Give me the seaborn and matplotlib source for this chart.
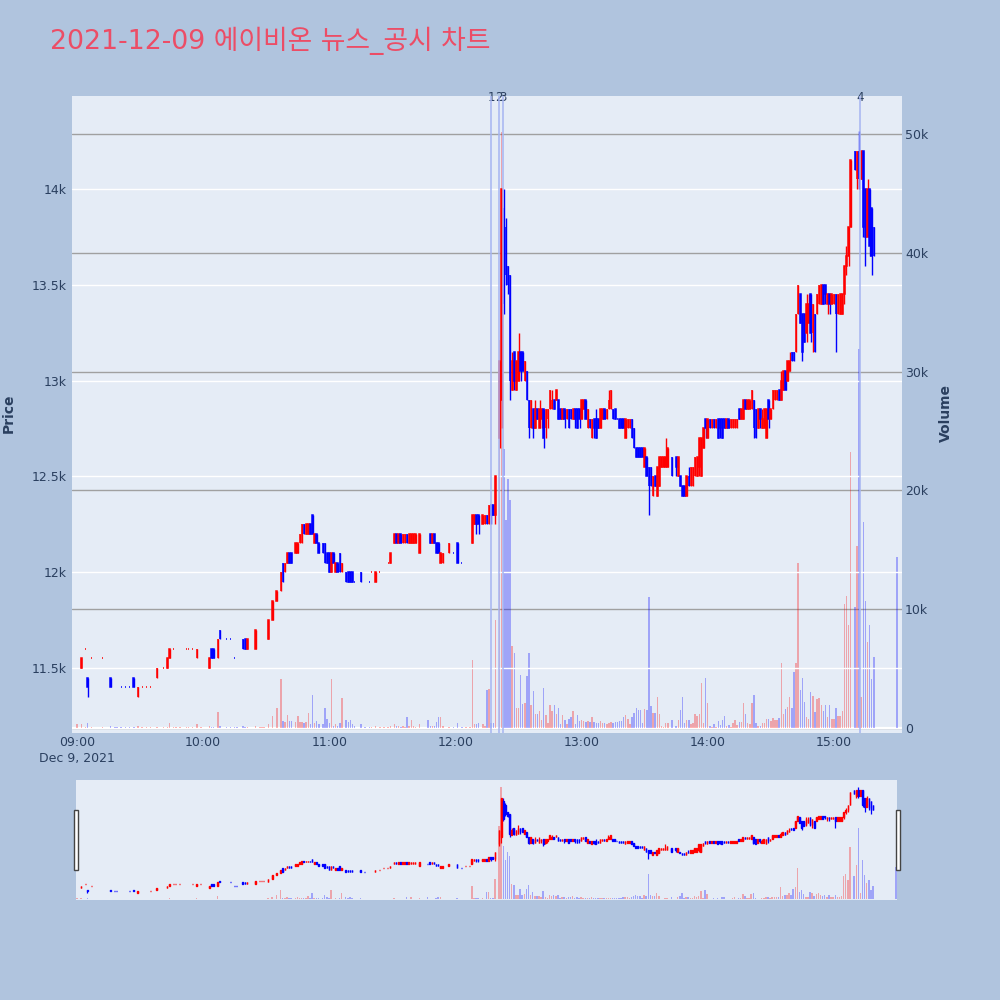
import numpy as np
import pandas as pd
import matplotlib
matplotlib.use("Agg")
import matplotlib.pyplot as plt
import matplotlib.dates as mdates
from matplotlib.patches import Rectangle
import seaborn as sns

# =================================================================
# 1. Data (1-minute candles, Dec 9 2021)
# =================================================================
# minutes after 09:00 that have a candle
minute = [0, 2, 4, 5, 7, 12, 16, 18, 19, 21,
          23, 25, 27, 29, 31, 33, 35, 38, 41, 43,
          44, 46, 47, 49, 52, 53, 55, 57, 59, 63,
          64, 65, 67, 68, 71, 73, 75, 76, 79, 80,
          81, 85, 87, 88, 89, 91, 93, 95, 97, 98,
          99, 100, 101, 102, 104, 105, 106, 107, 108, 109,
          110, 111, 112, 113, 114, 115, 117, 118, 119, 120,
          121, 122, 123, 124, 125, 126, 128, 129, 130, 131,
          132, 135, 137, 139, 140, 142, 144, 146, 148, 149,
          151, 152, 153, 154, 155, 156, 157, 158, 159, 160,
          161, 163, 167, 168, 169, 170, 171, 172, 173, 174,
          177, 179, 181, 183, 185, 187, 188, 189, 190, 191,
          193, 194, 195, 196, 197, 198, 199, 201, 202,
          203, 204, 205, 206, 207, 208, 209, 210, 211, 212,
          213, 214, 215, 216, 217, 218, 219, 220, 221, 222,
          223, 224, 225, 226, 227, 228, 229, 230, 231, 232,
          233, 234, 235, 236, 237, 238, 239, 240, 241, 242,
          243, 244, 245, 246, 247, 248, 249, 250, 251, 252,
          253, 254, 255, 256, 257, 258, 259, 260, 261, 262,
          263, 264, 265, 266, 267, 268, 269, 270, 271, 272,
          273, 274, 275, 276, 277, 278, 279, 280, 281,
          283,
          285, 286, 287, 288, 289, 290, 291, 292, 293, 294,
          295, 296, 297, 298, 299, 300, 301, 302, 303, 304,
          305, 306, 307, 308, 309, 310, 311, 312, 313, 314,
          315, 316, 317, 318, 319, 320, 321, 322, 323, 324,
          325, 326, 327, 328, 329, 330, 331, 332, 333, 334,
          335, 336, 337, 338, 339, 340, 341, 342, 343, 344,
          345, 346, 347, 348, 349, 350, 351, 352, 353, 354,
          355, 356, 357, 358, 359, 360, 361, 362, 363, 364,
          365, 366, 367, 368, 370, 371, 372, 373, 374, 375,
          376, 377, 378, 379, 390]

open_ = [11400, 11500, 11600, 11450, 11550, 11550, 11450, 11400, 11400, 11400,
         11400, 11400, 11450, 11350, 11400, 11400, 11400, 11450, 11500, 11500,
         11550, 11600, 11600, 11600, 11600, 11600, 11600, 11550, 11600, 11500,
         11600, 11600, 11550, 11700, 11650, 11650, 11550, 11550, 11650, 11650,
         11600, 11600, 11700, 11700, 11700, 11650, 11750, 11850, 11900, 12050,
         12000, 12050, 12100, 12100, 12100, 12100, 12150, 12150, 12250, 12200,
         12200, 12250, 12300, 12150, 12200, 12150, 12150, 12150, 12100, 12100,
         12000, 12100, 12000, 12050, 12100, 12000, 12000, 12000, 12000, 12000,
         11950, 12000, 11950, 11950, 12000, 11950, 12000, 12050, 12050, 12050,
         12150, 12200, 12150, 12200, 12150, 12150, 12200, 12150, 12150, 12150,
         12150, 12100, 12150, 12200, 12150, 12200, 12150, 12150, 12050, 12050,
         12100, 12100, 12150, 12050, 12100, 12100, 12150, 12250, 12300, 12300,
         12250, 12250, 12300, 12250, 12350, 12350, 12300, 12700, 12900,
         13900, 13800, 13600, 13550, 12950, 13150, 12950, 13000, 13150, 13150,
         13000, 13050, 12900, 12750, 12850, 12750, 12850, 12750, 12800, 12850,
         12750, 12800, 12850, 12850, 12900, 12900, 12900, 12850, 12800, 12850,
         12800, 12850, 12850, 12800, 12850, 12850, 12850, 12800, 12850, 12900,
         12750, 12800, 12700, 12800, 12800, 12800, 12750, 12800, 12850, 12800,
         12850, 12850, 12850, 12850, 12800, 12800, 12800, 12800, 12700, 12750,
         12750, 12800, 12750, 12650, 12650, 12650, 12650, 12550, 12600, 12550,
         12550, 12400, 12500, 12400, 12450, 12550, 12550, 12550, 12550,
         12600,
         12600, 12500, 12500, 12450, 12450, 12400, 12500, 12450, 12450, 12500,
         12500, 12550, 12500, 12650, 12800, 12700, 12800, 12750, 12800, 12750,
         12800, 12800, 12800, 12800, 12750, 12800, 12750, 12750, 12750, 12750,
         12850, 12800, 12800, 12900, 12850, 12850, 12850, 12900, 12850, 12750,
         12850, 12750, 12750, 12700, 12900, 12800, 12850, 12900, 12900, 12950,
         12900, 12950, 13050, 13000, 13050, 13150, 13150, 13150, 13350, 13450,
         13350, 13350, 13250, 13300, 13450, 13250, 13350, 13350, 13400, 13400,
         13500, 13500, 13400, 13450, 13400, 13400, 13450, 13350, 13350, 13350,
         13450, 13600, 13650, 13800, 14200, 14050, 14200, 14050, 14200, 14000,
         13750, 14000, 13900, 13800, 13600]

high = [11400, 11550, 11600, 11450, 11550, 11550, 11450, 11400, 11400, 11400,
        11400, 11400, 11450, 11400, 11400, 11400, 11400, 11500, 11500, 11550,
        11600, 11600, 11600, 11600, 11600, 11600, 11600, 11600, 11600, 11550,
        11600, 11600, 11650, 11700, 11650, 11650, 11550, 11550, 11650, 11650,
        11650, 11700, 11700, 11700, 11700, 11750, 11850, 11900, 12000, 12050,
        12050, 12100, 12100, 12100, 12150, 12150, 12200, 12250, 12250, 12250,
        12250, 12250, 12300, 12200, 12200, 12150, 12150, 12150, 12100, 12100,
        12100, 12100, 12050, 12050, 12100, 12050, 12000, 12000, 12000, 12000,
        11950, 12000, 11950, 11950, 12000, 12000, 12000, 12050, 12050, 12100,
        12200, 12200, 12200, 12200, 12200, 12200, 12200, 12200, 12200, 12200,
        12200, 12200, 12150, 12200, 12200, 12200, 12150, 12150, 12100, 12100,
        12150, 12100, 12150, 12050, 12100, 12100, 12300, 12300, 12300, 12300,
        12300, 12300, 12300, 12350, 12350, 12350, 12500, 13100, 14000,
        14000, 13850, 13600, 13550, 13150, 13150, 13100, 13250, 13150, 13150,
        13100, 13050, 12900, 12900, 12850, 12900, 12850, 12900, 12850, 12850,
        12850, 12850, 12950, 12950, 12900, 12950, 12900, 12850, 12850, 12850,
        12850, 12850, 12850, 12850, 12850, 12850, 12850, 12900, 12900, 12900,
        12850, 12800, 12800, 12800, 12850, 12800, 12850, 12850, 12850, 12850,
        12950, 12950, 12850, 12850, 12800, 12800, 12800, 12800, 12800, 12800,
        12800, 12800, 12750, 12650, 12650, 12650, 12650, 12650, 12600, 12550,
        12550, 12500, 12500, 12550, 12600, 12600, 12600, 12700, 12650,
        12600,
        12600, 12600, 12500, 12450, 12450, 12500, 12550, 12550, 12550, 12600,
        12600, 12700, 12700, 12750, 12800, 12800, 12800, 12800, 12800, 12800,
        12800, 12800, 12800, 12800, 12800, 12800, 12800, 12800, 12800, 12800,
        12850, 12850, 12900, 12900, 12900, 12900, 12950, 12900, 12850, 12850,
        12850, 12850, 12850, 12850, 12900, 12850, 12950, 12950, 12950, 12950,
        13050, 13050, 13050, 13100, 13150, 13150, 13150, 13350, 13500, 13450,
        13350, 13350, 13450, 13450, 13450, 13400, 13350, 13450, 13500, 13500,
        13500, 13500, 13450, 13450, 13450, 13450, 13450, 13450, 13450, 13450,
        13600, 13700, 13800, 14150, 14200, 14200, 14300, 14200, 14200, 14000,
        14050, 14000, 13900, 13800, 13600]

low = [11400, 11500, 11600, 11350, 11550, 11550, 11400, 11400, 11400, 11400,
       11400, 11400, 11400, 11350, 11400, 11400, 11400, 11450, 11500, 11500,
       11550, 11600, 11600, 11600, 11600, 11600, 11600, 11550, 11600, 11500,
       11550, 11550, 11550, 11650, 11650, 11650, 11550, 11550, 11600, 11600,
       11600, 11600, 11700, 11700, 11700, 11650, 11750, 11850, 11900, 11950,
       12000, 12050, 12050, 12050, 12100, 12100, 12150, 12150, 12200, 12200,
       12200, 12200, 12200, 12150, 12150, 12100, 12100, 12050, 12050, 12000,
       12000, 12050, 12000, 12000, 12000, 12000, 11950, 11950, 11950, 11950,
       11950, 11950, 11950, 11950, 12000, 11950, 12000, 12050, 12050, 12050,
       12150, 12150, 12150, 12150, 12150, 12150, 12150, 12150, 12150, 12150,
       12150, 12100, 12150, 12150, 12150, 12150, 12100, 12100, 12050, 12050,
       12100, 12100, 12050, 12050, 12100, 12100, 12150, 12250, 12200, 12200,
       12250, 12250, 12250, 12250, 12250, 12300, 12250, 12650, 12750,
       13350, 13500, 13450, 12900, 12950, 12950, 12950, 13000, 13000, 13050,
       13000, 12900, 12700, 12750, 12700, 12750, 12800, 12750, 12750, 12650,
       12700, 12750, 12850, 12850, 12850, 12900, 12800, 12800, 12800, 12750,
       12800, 12750, 12800, 12800, 12750, 12750, 12750, 12800, 12850, 12800,
       12750, 12750, 12700, 12700, 12700, 12750, 12750, 12800, 12800, 12800,
       12850, 12850, 12800, 12800, 12800, 12750, 12750, 12750, 12700, 12750,
       12750, 12700, 12650, 12600, 12600, 12600, 12600, 12550, 12500, 12300,
       12450, 12400, 12450, 12400, 12450, 12550, 12550, 12550, 12550,
       12500,
       12500, 12500, 12450, 12400, 12400, 12400, 12450, 12450, 12450, 12500,
       12500, 12500, 12500, 12650, 12700, 12700, 12750, 12750, 12750, 12750,
       12700, 12700, 12700, 12750, 12750, 12750, 12750, 12750, 12750, 12750,
       12800, 12800, 12800, 12850, 12850, 12850, 12850, 12700, 12700, 12750,
       12750, 12750, 12750, 12700, 12750, 12800, 12850, 12900, 12900, 12900,
       12900, 12950, 12950, 13000, 13050, 13100, 13100, 13150, 13350, 13300,
       13100, 13200, 13200, 13300, 13200, 13150, 13150, 13350, 13400, 13400,
       13400, 13400, 13350, 13350, 13400, 13400, 13150, 13350, 13350, 13350,
       13400, 13550, 13600, 13800, 14100, 14000, 14000, 14050, 13750, 13600,
       13750, 13650, 13550, 13650, 13600]

close = [11400, 11550, 11600, 11400, 11550, 11550, 11400, 11400, 11400, 11400,
         11400, 11400, 11400, 11400, 11400, 11400, 11400, 11500, 11500, 11550,
         11600, 11600, 11600, 11600, 11600, 11600, 11600, 11600, 11600, 11550,
         11550, 11550, 11650, 11650, 11650, 11650, 11550, 11550, 11600, 11600,
         11650, 11700, 11700, 11700, 11700, 11750, 11850, 11900, 12000, 11950,
         12050, 12100, 12050, 12050, 12150, 12150, 12200, 12250, 12200, 12250,
         12250, 12200, 12200, 12200, 12150, 12100, 12100, 12050, 12050, 12000,
         12100, 12050, 12050, 12000, 12000, 12050, 11950, 11950, 11950, 11950,
         11950, 11950, 11950, 11950, 12000, 12000, 12000, 12050, 12050, 12100,
         12200, 12150, 12200, 12150, 12200, 12200, 12150, 12200, 12200, 12200,
         12200, 12200, 12150, 12150, 12200, 12150, 12100, 12100, 12100, 12100,
         12150, 12100, 12050, 12050, 12100, 12100, 12300, 12300, 12250, 12250,
         12300, 12300, 12250, 12350, 12300, 12300, 12500, 13100, 14000,
         13400, 13550, 13500, 13000, 13100, 13000, 13100, 13150, 13050, 13050,
         13100, 12900, 12750, 12900, 12750, 12850, 12800, 12850, 12850, 12700,
         12850, 12850, 12950, 12900, 12850, 12950, 12800, 12800, 12850, 12800,
         12850, 12750, 12800, 12850, 12800, 12750, 12800, 12900, 12900, 12800,
         12850, 12750, 12800, 12750, 12700, 12750, 12850, 12850, 12800, 12850,
         12900, 12950, 12800, 12800, 12800, 12750, 12750, 12750, 12800, 12800,
         12800, 12700, 12650, 12600, 12600, 12600, 12600, 12650, 12500, 12450,
         12450, 12500, 12450, 12550, 12600, 12600, 12600, 12600, 12650,
         12500,
         12550, 12600, 12450, 12400, 12400, 12500, 12450, 12550, 12550, 12600,
         12600, 12700, 12700, 12750, 12750, 12800, 12750, 12800, 12750, 12800,
         12700, 12750, 12700, 12750, 12800, 12750, 12800, 12800, 12800, 12800,
         12800, 12850, 12900, 12850, 12900, 12900, 12950, 12750, 12700, 12850,
         12800, 12800, 12850, 12850, 12800, 12850, 12950, 12950, 12950, 12900,
         13000, 13050, 12950, 13100, 13100, 13100, 13100, 13350, 13500, 13300,
         13150, 13200, 13400, 13400, 13250, 13400, 13150, 13450, 13500, 13500,
         13400, 13450, 13450, 13400, 13450, 13450, 13350, 13450, 13450, 13450,
         13600, 13650, 13800, 14150, 14100, 14200, 14050, 14200, 13800, 13750,
         14000, 13700, 13650, 13650, 13600]

volume = [300, 300, 100, 450, 100, 100, 200, 100, 100, 100,
          100, 100, 100, 200, 100, 100, 100, 100, 100, 100,
          400, 100, 100, 100, 100, 100, 100, 300, 100, 200,
          100, 100, 1350, 200, 100, 100, 100, 100, 200, 100,
          100, 200, 100, 100, 100, 300, 1000, 1650, 4100, 600,
          500, 1100, 600, 600, 500, 1050, 500, 500, 450, 500,
          1300, 300, 2800, 400, 600, 300, 300, 1650, 800, 400,
          4100, 200, 300, 200, 400, 2500, 700, 500, 700, 300,
          200, 300, 100, 100, 100, 200, 100, 100, 100, 200,
          300, 200, 200, 100, 200, 100, 900, 200, 700, 200,
          100, 300, 700, 200, 200, 200, 500, 900, 900, 200,
          100, 100, 400, 100, 100, 100, 5700, 300, 300, 400,
          300, 200, 3200, 3300, 400, 400, 9100, 32700, 50200,
          23500, 17500, 21000, 19200, 6900, 6300, 1700, 1700, 4500, 2000,
          2100, 4400, 6300, 1900, 3100, 1200, 1200, 1400, 700, 3400,
          1100, 400, 1900, 1400, 1900, 1200, 1700, 300, 1100, 700,
          300, 800, 900, 1400, 300, 1100, 600, 700, 600, 500,
          600, 500, 900, 500, 400, 400, 550, 400, 400, 300,
          400, 500, 400, 500, 500, 600, 600, 900, 1100, 800,
          300, 900, 1250, 1700, 1550, 1500, 400, 1600, 1500, 11000,
          1850, 1300, 1300, 2600, 1200, 200, 100, 450, 450,
          700,
          200, 700, 1500, 2600, 400, 700, 700, 350, 400, 1200,
          1000, 1200, 3800, 400, 4200, 2100, 200, 100, 300, 100,
          600, 250, 700, 1000, 200, 250, 100, 400, 700, 250,
          500, 500, 2100, 1200, 400, 350, 2100, 2800, 400, 200,
          200, 400, 450, 800, 800, 550, 850, 700, 700, 850,
          5500, 1200, 1600, 1750, 2600, 1700, 4700, 5500, 13900, 3200,
          4200, 2200, 900, 800, 3000, 2700, 1350, 2400, 2500, 1950,
          1450, 1900, 950, 1900, 800, 750, 1700, 1000, 1000, 1450,
          10400, 11100, 8700, 23200, 10200, 15300, 31900, 2600, 17300, 10700,
          7200, 8700, 4100, 6000, 14400]

# news / disclosure markers
news_time = ["12:17:00", "12:20:30", "12:22:45", "15:12:20"]
news_label = ["1", "2", "3", "4"]

hour_ticks = ["09:00", "10:00", "11:00", "12:00", "13:00", "14:00", "15:00"]
price_ticks = [11500, 12000, 12500, 13000, 13500, 14000]
price_labels = ["11.5k", "12k", "12.5k", "13k", "13.5k", "14k"]
volume_ticks = [0, 10000, 20000, 30000, 40000, 50000]
volume_labels = ["0", "10k", "20k", "30k", "40k", "50k"]
title = "2021-12-09 에이비온 뉴스_공시 차트"

# =================================================================
# 2. Prepare
# =================================================================
n = len(minute)
assert all(len(a) == n for a in (open_, high, low, close, volume)), "length mismatch"

day = pd.Timestamp("2021-12-09 09:00")
df = pd.DataFrame({"open": open_, "high": high, "low": low,
                   "close": close, "volume": volume})
df["t"] = mdates.date2num(day + pd.to_timedelta(minute, unit="min"))

# plotly-like direction: equal open/close follows previous close
up = []
prev_c, prev_up = None, True
for o, c in zip(df["open"], df["close"]):
    if c > o:
        u = True
    elif c < o:
        u = False
    elif prev_c is None or c > prev_c:
        u = True
    elif c < prev_c:
        u = False
    else:
        u = prev_up
    up.append(u)
    prev_c, prev_up = c, u
df["up"] = up
df["color"] = np.where(df["up"], "red", "blue")
df["vcolor"] = [(1, 0, 0, 0.3) if u else (0, 0, 1, 0.3) for u in df["up"]]
df["bottom"] = df[["open", "close"]].min(axis=1)
df["body"] = (df["close"] - df["open"]).abs()

MIN = 1 / 1440.0
PAPER = "#B0C4DE"
PLOT_BG = "#E5ECF6"
TXT = "#2a3f5f"

sns.set_theme(style="darkgrid", rc={"axes.facecolor": PLOT_BG, "grid.color": "white"})
plt.rcParams["font.family"] = ["DejaVu Sans", "Noto Sans CJK KR"]


def draw(ax_p, ax_v, body_lw, wick_lw):
    ax_v.bar(df["t"], df["volume"], width=0.7 * MIN, color=df["vcolor"],
             linewidth=0, zorder=2)
    ax_p.vlines(df["t"], df["low"], df["high"], colors=df["color"],
                linewidth=wick_lw, zorder=2)
    ax_p.bar(df["t"], df["body"], bottom=df["bottom"], width=0.3 * MIN,
             color=df["color"], edgecolor=df["color"], linewidth=body_lw, zorder=3)


def layer(ax_p, ax_v):
    # volume axes underneath holds the background, price axes on top
    ax_v.set_zorder(0)
    ax_p.set_zorder(1)
    ax_v.patch.set_visible(True)
    ax_v.set_facecolor(PLOT_BG)
    ax_p.patch.set_visible(False)
    for a in (ax_p, ax_v):
        for sp in a.spines.values():
            sp.set_visible(False)


# =================================================================
# 3. Figure
# =================================================================
fig = plt.figure(figsize=(10, 10), dpi=100, facecolor=PAPER)

ax_p = fig.add_axes([0.072, 0.267, 0.830, 0.637])
ax_v = ax_p.twinx()
layer(ax_p, ax_v)
draw(ax_p, ax_v, body_lw=1.1, wick_lw=1.0)

ax_p.set_xlim(mdates.date2num(day - pd.Timedelta(minutes=2.4)),
              mdates.date2num(day + pd.Timedelta(minutes=392.4)))
ax_p.set_ylim(11161, 14485)
ax_v.set_ylim(-420, 53200)

ax_p.grid(axis="y", color="white", linewidth=1.0, zorder=0)
ax_p.grid(axis="x", visible=False)
ax_v.grid(axis="y", color="#a0a0a0", linewidth=1.0)
ax_v.grid(axis="x", visible=False)
ax_v.axhline(0, color="white", linewidth=1.6, zorder=1)

ax_p.set_yticks(price_ticks, price_labels)
ax_v.set_yticks(volume_ticks, volume_labels)
xt = mdates.date2num(pd.to_datetime(["2021-12-09 " + h for h in hour_ticks]))
xl = [hour_ticks[0] + "\nDec 9, 2021"] + hour_ticks[1:]
ax_p.set_xticks(xt, xl)
for lbl in ax_p.get_xticklabels():
    lbl.set_linespacing(1.3)

ax_p.tick_params(axis="x", length=0, colors=TXT, labelsize=9, pad=2.2)
ax_p.tick_params(axis="y", length=0, colors=TXT, labelsize=9, pad=3.6)
ax_v.tick_params(axis="y", length=0, colors=TXT, labelsize=9, pad=2.2)

# news markers
for t, lab in zip(news_time, news_label):
    xn = mdates.date2num(pd.Timestamp("2021-12-09 " + t))
    ax_p.axvline(xn, color="#a6b5f2", linewidth=1.1, zorder=4)
    ax_p.annotate(lab, xy=(xn, 1.0), xycoords=("data", "axes fraction"),
                  xytext=(0, -0.8), textcoords="offset points",
                  ha="center", va="center", fontsize=8.5, color=TXT,
                  annotation_clip=False)

# range slider
ax_s = fig.add_axes([0.076, 0.100, 0.821, 0.120])
ax_sv = ax_s.twinx()
layer(ax_s, ax_sv)
draw(ax_s, ax_sv, body_lw=1.0, wick_lw=0.9)
ax_s.set_xlim(mdates.date2num(day - pd.Timedelta(minutes=0.4)),
              mdates.date2num(day + pd.Timedelta(minutes=390.4)))
ax_s.set_ylim(11161, 14485)
ax_sv.set_ylim(-420, 53200)
for a in (ax_s, ax_sv):
    a.grid(False)
    a.set_yticks([])
ax_s.set_xticks([])

for hx in (0.0735, 0.8955):
    fig.add_artist(Rectangle((hx, 0.130), 0.0045, 0.060, transform=fig.transFigure,
                             facecolor="white", edgecolor="#444444", linewidth=1.0))

# texts
fig.text(0.050, 0.9595, title, color="#EC4D66", fontsize=19.3, ha="left", va="center")
fig.text(0.009, 0.587, "Price", rotation=90, ha="center", va="center",
         fontsize=10, fontweight="bold", color=TXT)
fig.text(0.946, 0.587, "Volume", rotation=90, ha="center", va="center",
         fontsize=10, fontweight="bold", color=TXT)

fig.savefig("out.png", dpi=100, facecolor=PAPER)
